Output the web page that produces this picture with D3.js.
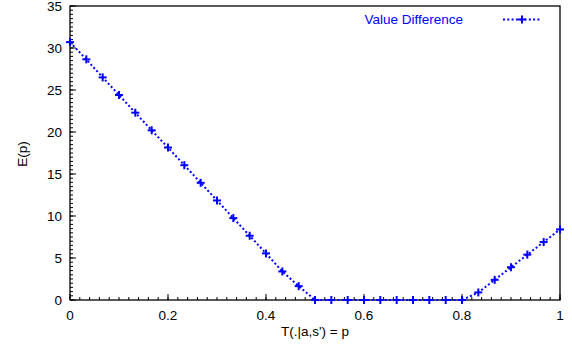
<!DOCTYPE html>
<html><head><meta charset="utf-8">
<script src="https://cdn.jsdelivr.net/npm/d3@7"></script>
<style>
html,body{margin:0;padding:0;background:#fff;}
text{font-family:"Liberation Sans",Arial,Helvetica,sans-serif;}
</style></head>
<body>
<svg id="c" width="572" height="351"></svg>
<script>
const pValues = [0, 0.0333, 0.0667, 0.1, 0.1333, 0.1667, 0.2, 0.2333, 0.2667, 0.3, 0.3333, 0.3667, 0.4, 0.4333, 0.4667,
  0.5, 0.5333, 0.5667, 0.6, 0.6333, 0.6667, 0.7, 0.7333, 0.7667, 0.8,
  0.8333, 0.8667, 0.9, 0.9333, 0.9667, 1.0];
const eValues = [30.7, 28.65, 26.5, 24.4, 22.3, 20.2, 18.15, 16.05, 13.95, 11.85, 9.75, 7.65, 5.55, 3.4, 1.65,
  0, 0, 0, 0, 0, 0, 0, 0, 0, 0,
  0.9, 2.4, 3.9, 5.4, 6.9, 8.4];
const xTicks = [0, 0.2, 0.4, 0.6, 0.8, 1];
const xTickLabels = ["0", "0.2", "0.4", "0.6", "0.8", "1"];
const yTicks = [0, 5, 10, 15, 20, 25, 30, 35];
const seriesName = "Value Difference";
const xLabel = "T(.|a,s') = p";
const yLabel = "E(p)";

const L = 70, R = 560, T = 6, B = 300;
const FS = 13.5;
const svg = d3.select("#c");
const x = d3.scaleLinear().domain([0, 1]).range([L, R]);
const y = d3.scaleLinear().domain([0, 35]).range([B, T]);
const blue = "#0000ff";

// border
svg.append("rect").attr("x", L).attr("y", T).attr("width", R - L).attr("height", B - T)
  .attr("fill", "none").attr("stroke", "#000").attr("stroke-width", 1.3);

// x axis (ticks inward)
const xMinor = d3.range(0, 1.0001, 0.02);
const xAx = svg.append("g").attr("transform", `translate(0,${B})`);
xAx.selectAll("line.mi").data(xMinor).join("line")
  .attr("x1", d => x(d)).attr("x2", d => x(d)).attr("y1", 0).attr("y2", -3)
  .attr("stroke", "#000");
xAx.selectAll("line.ma").data(xTicks).join("line")
  .attr("x1", d => x(d)).attr("x2", d => x(d)).attr("y1", 0).attr("y2", -6)
  .attr("stroke", "#000");
xAx.selectAll("text").data(xTicks).join("text")
  .attr("x", d => x(d)).attr("y", 20).attr("text-anchor", "middle")
  .attr("font-size", FS).attr("fill", "#000")
  .text((d, i) => xTickLabels[i]);

// y axis
const yMinor = d3.range(0, 35.0001, 0.5);
const yAx = svg.append("g").attr("transform", `translate(${L},0)`);
yAx.selectAll("line.mi").data(yMinor).join("line")
  .attr("x1", 0).attr("x2", 3).attr("y1", d => y(d)).attr("y2", d => y(d))
  .attr("stroke", "#000");
yAx.selectAll("line.ma").data(yTicks).join("line")
  .attr("x1", 0).attr("x2", 6).attr("y1", d => y(d)).attr("y2", d => y(d))
  .attr("stroke", "#000");
yAx.selectAll("text").data(yTicks).join("text")
  .attr("x", -8).attr("y", d => y(d)).attr("dy", "0.35em").attr("text-anchor", "end")
  .attr("font-size", FS).attr("fill", "#000")
  .text(d => d);

// axis labels
svg.append("text").attr("x", (L + R) / 2).attr("y", 336).attr("text-anchor", "middle")
  .attr("font-size", FS).text(xLabel);
svg.append("text").attr("transform", "translate(27,154) rotate(-90)").attr("text-anchor", "middle")
  .attr("font-size", FS).text(yLabel);

// series
const data = pValues.map((p, i) => ({p, e: eValues[i]}));
const line = d3.line().x(d => x(d.p)).y(d => y(d.e));
svg.append("path").datum(data).attr("d", line)
  .attr("fill", "none").attr("stroke", blue).attr("stroke-width", 2)
  .attr("stroke-dasharray", "2,2.3");
const plus = (g, cx, cy) => {
  g.append("line").attr("x1", cx - 4).attr("x2", cx + 4).attr("y1", cy).attr("y2", cy)
    .attr("stroke", blue).attr("stroke-width", 2);
  g.append("line").attr("x1", cx).attr("x2", cx).attr("y1", cy - 4).attr("y2", cy + 4)
    .attr("stroke", blue).attr("stroke-width", 2);
};
const mg = svg.append("g");
data.forEach(d => plus(mg, x(d.p), y(d.e)));

// legend
svg.append("text").attr("x", 463).attr("y", 24).attr("text-anchor", "end")
  .attr("font-size", FS).attr("fill", blue).text(seriesName);
svg.append("line").attr("x1", 503).attr("x2", 541).attr("y1", 19.5).attr("y2", 19.5)
  .attr("stroke", blue).attr("stroke-width", 2).attr("stroke-dasharray", "2,2.3");
plus(svg, 522, 19.5);
</script>
</body></html>
